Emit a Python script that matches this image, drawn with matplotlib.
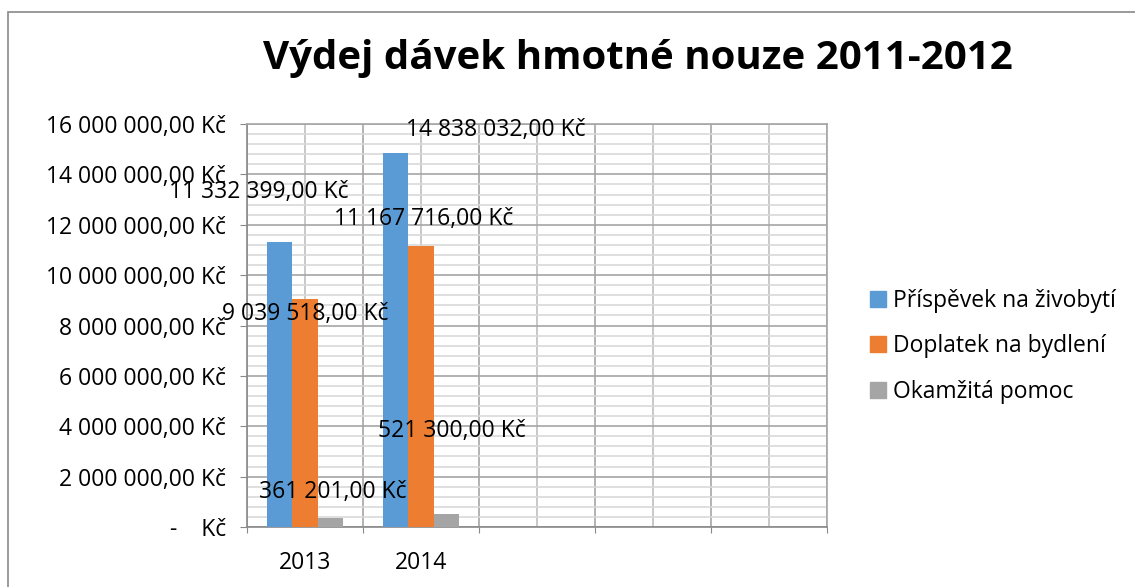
import numpy as np
import matplotlib
matplotlib.use('Agg')
import matplotlib.pyplot as plt
from matplotlib.patches import Rectangle, Patch
from matplotlib.ticker import FuncFormatter, MultipleLocator

plt.rcParams['font.family'] = ['Open Sans', 'DejaVu Sans']

title = 'Výdej dávek hmotné nouze 2011-2012'
categories = ['2013', '2014', '', '', '']
series = ['Příspěvek na živobytí', 'Doplatek na bydlení', 'Okamžitá pomoc']
prispevek = [11332399, 14838032]
doplatek = [9039518, 11167716]
okamzita = [361201, 521300]
colors = ['#5B9BD5', '#ED7D31', '#A5A5A5']

# data label offsets in pixels (excel scattered them around)
label_offsets = [[(-21, 50), (100, 23)],
                 [(0, -15), (3, 27)],
                 [(2, 26), (5, 83)]]


def kc(v, pos=None):
    if v == 0:
        return '-    Kč'
    s = f'{v:,.2f}'.replace(',', ' ').replace('.', ',')
    return s + ' Kč'


W, H = 1135, 587
fs = 16.5
fig = plt.figure(figsize=(W / 100, H / 100), dpi=100)
ax = fig.add_axes([247 / W, 1 - 527 / H, 580 / W, 403 / H])

bw = 0.22
for j, vals in enumerate([prispevek, doplatek, okamzita]):
    x = np.arange(len(vals)) + (j - 1) * bw
    bars = ax.bar(x, vals, bw, color=colors[j], label=series[j], zorder=3)
    for k, b in enumerate(bars):
        ax.annotate(kc(vals[k]), (b.get_x() + b.get_width() / 2, b.get_height()),
                    xytext=label_offsets[j][k], textcoords='offset pixels',
                    ha='center', va='center', fontsize=fs, zorder=4)

ax.set_xlim(-0.5, len(categories) - 0.5)
ax.set_ylim(0, 16000000)
ax.yaxis.set_major_locator(MultipleLocator(2000000))
ax.yaxis.set_minor_locator(MultipleLocator(400000))
ax.yaxis.set_major_formatter(FuncFormatter(kc))

ax.set_xticks(np.arange(-0.5, len(categories), 1))
ax.set_xticklabels([])
ax.set_xticks(np.arange(len(categories)), minor=True)
ax.set_xticklabels(categories, minor=True)

ax.set_axisbelow(True)
ax.grid(which='major', axis='y', color='#a6a6a6', lw=1.2)
ax.grid(which='minor', axis='y', color='#d9d9d9', lw=1.2)
ax.grid(which='major', axis='x', color='#a6a6a6', lw=1.2)
ax.grid(which='minor', axis='x', color='#bfbfbf', lw=1.2)

for s in ax.spines.values():
    s.set_color('#a6a6a6')
    s.set_linewidth(1.2)
ax.spines['left'].set_color('#898989')
ax.spines['bottom'].set_color('#898989')

ax.tick_params(axis='y', which='major', direction='out', length=5, color='#898989',
               labelsize=fs, pad=10)
ax.tick_params(axis='y', which='minor', length=0)
ax.tick_params(axis='x', which='major', direction='out', length=4.5, color='#898989')
ax.tick_params(axis='x', which='minor', length=0, labelsize=fs, pad=17)

handles = [Patch(color=c) for c in colors]
fig.legend(handles, series, loc='upper left', bbox_to_anchor=(849 / W, 1 - 268 / H),
           frameon=False, fontsize=fs, handlelength=0.7, handleheight=0.7,
           handletextpad=0.3, labelspacing=0.95)

fig.text(638 / W, 1 - 58 / H, title, ha='center', va='center',
         fontsize=29, fontweight='bold')

fig.patches.append(Rectangle((8 / W, -0.05), 1.1, 1.05 - 12 / H,
                             transform=fig.transFigure, fill=False,
                             edgecolor='#898989', lw=1.2))

fig.savefig('out.png', dpi=100)
